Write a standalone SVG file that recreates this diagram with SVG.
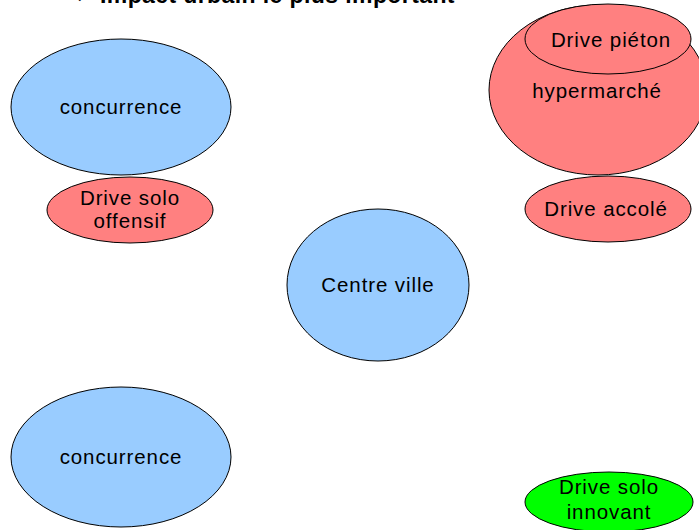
<svg xmlns="http://www.w3.org/2000/svg" width="699" height="530" viewBox="0 0 699 530">
<style>
.e{stroke:#000;stroke-width:1}
.b{fill:#99CCFF}
.r{fill:#FF8080}
.g{fill:#00FF00}
text{font-family:"Liberation Sans",Arial,sans-serif;font-size:20.5px;letter-spacing:0.9px;fill:#000;text-anchor:middle}
.t{font-weight:bold;font-size:23px;letter-spacing:0.4px;text-anchor:start}
</style>
<rect width="699" height="530" fill="#fff"/>
<text class="t" x="66" y="3">⇒</text>
<text class="t" x="100" y="3">Impact urbain le plus important</text>
<g id="connectors"></g>
<g id="concurrence-top"><ellipse class="e b" cx="121" cy="107" rx="110" ry="68"/><text x="121" y="114">concurrence</text></g>
<g id="drive-solo-offensif"><ellipse class="e r" cx="130" cy="210" rx="83" ry="33"/><text x="130" y="205">Drive solo</text><text x="130" y="228">offensif</text></g>
<g id="centre-ville"><ellipse class="e b" cx="378" cy="285" rx="91" ry="76"/><text x="378" y="292">Centre ville</text></g>
<g id="concurrence-bottom"><ellipse class="e b" cx="121" cy="457" rx="110" ry="70"/><text x="121" y="464">concurrence</text></g>
<g id="hypermarche"><ellipse class="e r" cx="598" cy="90" rx="109" ry="85"/><text x="597" y="98">hypermarché</text></g>
<g id="drive-pieton"><ellipse class="e r" cx="608" cy="39" rx="83" ry="35"/><text x="611" y="47">Drive piéton</text></g>
<g id="drive-accole"><ellipse class="e r" cx="608" cy="209" rx="83" ry="33"/><text x="606" y="216">Drive accolé</text></g>
<g id="drive-solo-innovant"><ellipse class="e g" cx="609" cy="502" rx="84" ry="30"/><text x="609" y="494">Drive solo</text><text x="609" y="519">innovant</text></g>
</svg>
